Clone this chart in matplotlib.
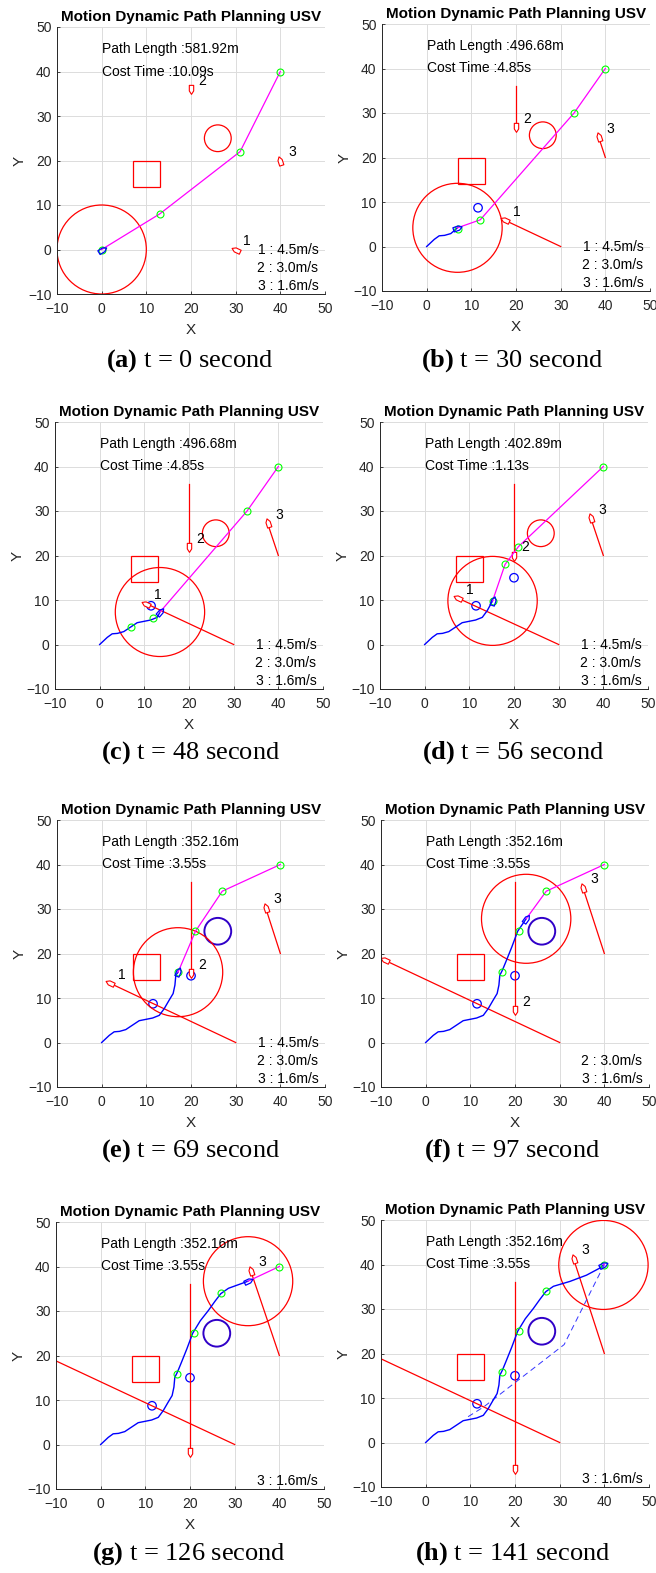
import numpy as np
import matplotlib
matplotlib.use('Agg')
import matplotlib.pyplot as plt
from matplotlib.patches import Circle, Rectangle
from matplotlib.path import Path
from matplotlib.markers import MarkerStyle
from matplotlib.transforms import Affine2D

plt.rcParams['font.family'] = ['Liberation Sans', 'DejaVu Sans']
plt.rcParams['mathtext.fontset'] = 'custom'
plt.rcParams['mathtext.rm'] = 'Liberation Serif'
plt.rcParams['mathtext.bf'] = 'Liberation Serif:bold'

# ---- data ----
panel_tags = ['a', 'b', 'c', 'd', 'e', 'f', 'g', 'h']
panel_times = [0, 30, 48, 56, 69, 97, 126, 141]
path_lengths = [581.92, 496.68, 496.68, 402.89, 352.16, 352.16, 352.16, 352.16]
cost_times = [10.09, 4.85, 4.85, 1.13, 3.55, 3.55, 3.55, 3.55]

# travelled USV track (full), and how many points are shown in each panel
traj_x = [0, 1.7, 2.8, 4.0, 5.4, 6.9, 8.4, 9.9, 11.4, 12.9, 14.0, 15.1, 16.0, 16.4,
          16.6, 17.2, 18.1, 19.3, 20.6, 22.3, 24.1, 25.6, 26.9, 28.6, 32.3, 36.0, 39.0, 39.9]
traj_y = [0, 1.6, 2.4, 2.5, 2.9, 3.9, 4.9, 5.2, 5.5, 6.1, 7.6, 9.5, 11.0, 12.9,
          15.1, 16.3, 18.5, 21.5, 25.0, 27.8, 30.1, 32.2, 33.9, 35.1, 36.2, 37.6, 39.2, 40.0]
traj_n = [1, 5, 10, 11, 15, 19, 24, 27]

# current USV position
usv_x = [0, 6.9, 13.5, 15.2, 17.1, 22.5, 33.0, 39.8]
usv_y = [0, 4.2, 7.3, 9.8, 15.8, 27.8, 36.7, 39.9]

# planned waypoints (green circles) and index of the next one
wp_x = [[0, 13, 31, 40], [7, 12, 33, 40], [7, 12, 33, 40], [15.2, 18, 21, 40],
        [17, 21, 27, 40], [17, 21, 27, 40], [17, 21, 27, 40], [17, 21, 27, 40]]
wp_y = [[0, 8, 22, 40], [4, 6, 30, 40], [4, 6, 30, 40], [9.7, 18, 22, 40],
        [15.8, 25, 34, 40], [15.8, 25, 34, 40], [15.8, 25, 34, 40], [15.8, 25, 34, 40]]
next_wp = [1, 1, 2, 1, 1, 2, 3, 3]

# first plan, shown dashed in the last panel (visible part)
init_plan_x = [9.5, 13, 31, 40]
init_plan_y = [5.8, 8, 22, 40]
show_init_plan = [False, False, False, False, False, False, False, True]

# detected points (small blue circles)
det_x = [11.5, 20]
det_y = [8.7, 15]
det_count = [0, 1, 1, 2, 2, 2, 2, 2]
circle_known = [False, False, False, False, True, True, True, True]

# static obstacles
sq_x0, sq_y0, sq_w = 7, 14, 6
circ_x, circ_y, circ_r = 26, 25, 3
safe_r = 10

# dynamic obstacles
obs_speed = [4.5, 3.0, 1.6]
obs_start_x = [30, 20, 40]
obs_start_y = [0, 36, 20]
obs_x = [[30, 17.5, 10.4, 7.5, 1.9, -9.2, -16.0, -20.0],
         [20, 20, 20, 20, 20, 20, 20, 20],
         [40, 38.5, 37.6, 37.2, 36.7, 35.2, 33.6, 33.1]]
obs_y = [[0, 5.9, 9.2, 10.4, 13.3, 18.5, 21.6, 23.5],
         [36, 26.8, 21.8, 19.9, 15.6, 7.3, -1.7, -6.0],
         [20, 24.6, 27.2, 28.4, 30.3, 34.8, 39.0, 41.3]]
active_obs = [[1, 2, 3], [1, 2, 3], [1, 2, 3], [1, 2, 3], [1, 2, 3], [2, 3], [3], [3]]

# ---- layout (pixels) ----
W, H = 656, 1573
ax_left = [57, 382, 55, 380, 57, 381, 56, 381]
ax_top = [27, 24, 422, 422, 820, 820, 1222, 1220]
ax_w, ax_h = 268, 267
cap_x = [190, 512, 191, 513, 191, 512, 189, 513]
cap_y = [361, 361, 753, 753, 1151, 1151, 1554, 1554]
speed_y = [-0.1, -4.2, -8.2]

boat_path = Path([(1.0, 0), (0.3, 0.45), (-0.85, 0.45), (-0.85, -0.45), (0.3, -0.45), (1.0, 0)],
                 [Path.MOVETO] + [Path.LINETO] * 4 + [Path.CLOSEPOLY])


def boat(angle):
    return MarkerStyle(boat_path, transform=Affine2D().rotate_deg(angle))


obs_heading = [np.degrees(np.arctan2(obs_y[k][-1] - obs_start_y[k], obs_x[k][-1] - obs_start_x[k]))
               for k in range(3)]

fig = plt.figure(figsize=(W / 100, H / 100), dpi=100)
dark = '#262626'

for i in range(8):
    ax = fig.add_axes([ax_left[i] / W, 1 - (ax_top[i] + ax_h) / H, ax_w / W, ax_h / H])
    ax.set_xlim(-10, 50)
    ax.set_ylim(-10, 50)
    ax.set_xticks(range(-10, 51, 10))
    ax.set_yticks(range(-10, 51, 10))
    ax.grid(True, color='#dcdcdc', lw=0.7)
    ax.set_axisbelow(True)
    for s in ['top', 'right']:
        ax.spines[s].set_visible(False)
    for s in ['left', 'bottom']:
        ax.spines[s].set_color(dark)
        ax.spines[s].set_linewidth(0.7)
    ax.tick_params(direction='in', length=2.5, width=0.6, color=dark, labelcolor=dark, labelsize=10)
    ax.tick_params(axis='x', pad=5.5)
    ax.tick_params(axis='y', pad=4)
    ax.set_title('Motion Dynamic Path Planning USV', fontsize=11, fontweight='bold', pad=4)
    ax.set_xlabel('X', fontsize=11, color=dark, labelpad=5.5)
    ax.set_ylabel('Y', fontsize=11, color=dark, labelpad=1)

    # static obstacles
    ax.add_patch(Rectangle((sq_x0, sq_y0), sq_w, sq_w, fill=False, ec='r', lw=0.9))
    if circle_known[i]:
        ax.add_patch(Circle((circ_x, circ_y), circ_r, fill=False, ec='#3000c8', lw=1.4))
    else:
        ax.add_patch(Circle((circ_x, circ_y), circ_r, fill=False, ec='r', lw=0.9))

    # detected points
    for j in range(det_count[i]):
        ax.add_patch(Circle((det_x[j], det_y[j]), 0.95, fill=False, ec='b', lw=0.9))

    # safety circle round the USV
    ax.add_patch(Circle((usv_x[i], usv_y[i]), safe_r, fill=False, ec='r', lw=0.9))

    # dynamic obstacles
    for k in range(3):
        ax.plot([obs_start_x[k], obs_x[k][i]], [obs_start_y[k], obs_y[k][i]], color='r', lw=0.9)
        ax.plot(obs_x[k][i], obs_y[k][i], marker=boat(obs_heading[k]), ms=7, mfc='white',
                mec='r', mew=0.8, ls='none')
        if (k + 1) in active_obs[i]:
            ax.text(obs_x[k][i] + 2.6, obs_y[k][i] + 1.9, str(k + 1), fontsize=10,
                    ha='center', va='center')
            ax.text(48.5, speed_y[k], '%d : %.1fm/s' % (k + 1, obs_speed[k]), fontsize=10,
                    ha='right', va='center')

    # initial plan (dashed)
    if show_init_plan[i]:
        ax.plot(init_plan_x, init_plan_y, color='#3333ff', lw=0.7, dashes=(6, 4))

    # travelled track
    tx = traj_x[:traj_n[i]] + [usv_x[i]]
    ty = traj_y[:traj_n[i]] + [usv_y[i]]
    ax.plot(tx, ty, color='b', lw=1.0)

    # planned path
    k0 = next_wp[i]
    ax.plot([usv_x[i]] + wp_x[i][k0:], [usv_y[i]] + wp_y[i][k0:], color='#ff00ff', lw=0.9)
    ax.plot(wp_x[i], wp_y[i], 'o', ms=5, mfc='none', mec='#00ff00', mew=0.8)

    # USV
    hd = np.degrees(np.arctan2(wp_y[i][k0] - usv_y[i], wp_x[i][k0] - usv_x[i]))
    ax.plot(usv_x[i], usv_y[i], marker=boat(hd), ms=7, mfc='none', mec='b', mew=0.9, ls='none')

    ax.text(0, 45, 'Path Length :%.2fm' % path_lengths[i], fontsize=10, ha='left', va='center')
    ax.text(0, 40, 'Cost Time :%.2fs' % cost_times[i], fontsize=10, ha='left', va='center')

    fig.text(cap_x[i] / W, 1 - cap_y[i] / H,
             r'$\mathbf{(%s)}$ t = %d second' % (panel_tags[i], panel_times[i]),
             family='Liberation Serif', fontsize=19, ha='center', va='center')

fig.savefig('out.png', dpi=100)
